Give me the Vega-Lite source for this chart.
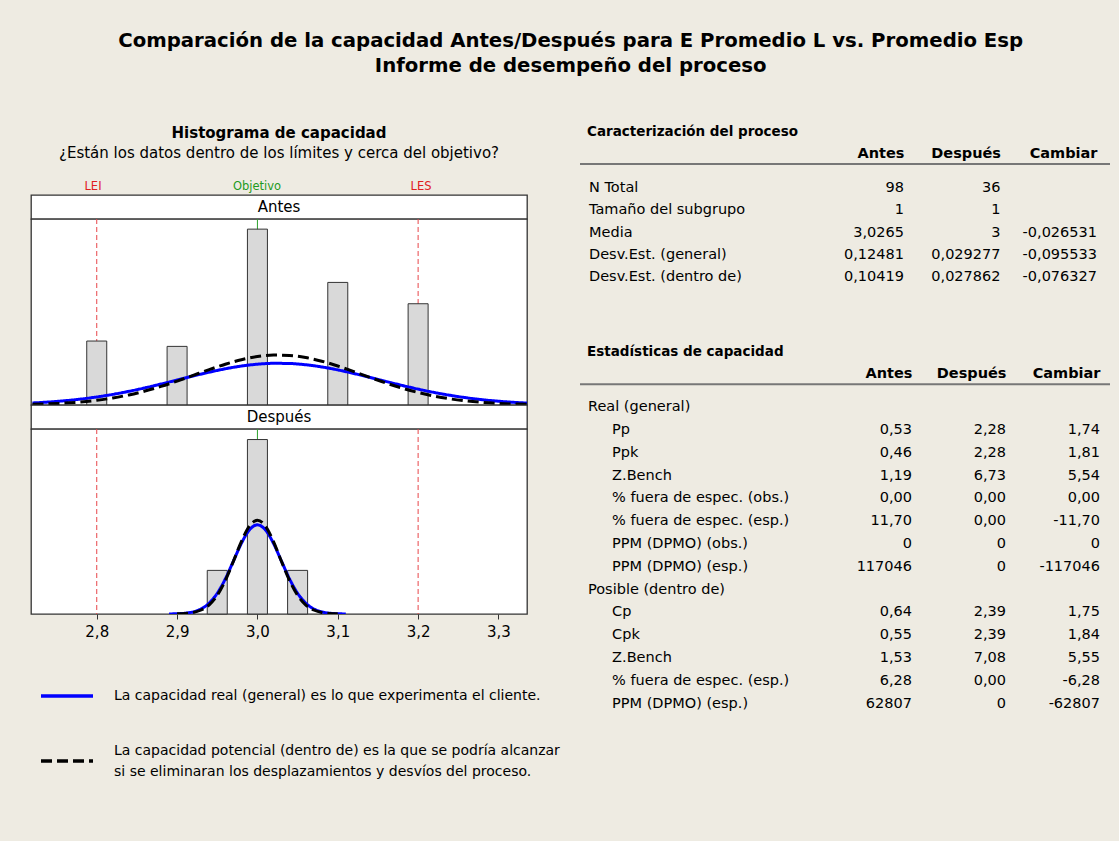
{
  "$schema": "https://vega.github.io/schema/vega-lite/v6.json",
  "background": "#EEEBE2",
  "padding": {"left": 30, "top": 30, "right": 10, "bottom": 70},
  "config": {
    "font": "DejaVu Sans",
    "view": {"stroke": null},
    "text": {"fontSize": 14.5, "color": "#000000"},
    "title": {"color": "#000000", "subtitleColor": "#000000"},
    "axis": {"labelColor": "#000000"},
    "legend": {
      "title": null, "orient": "none", "legendX": 8, "legendY": 504,
      "direction": "vertical", "symbolType": "stroke", "symbolSize": 2704,
      "symbolStrokeWidth": 3.5, "labelFontSize": 14, "labelLimit": 1000,
      "labelOffset": 19, "rowPadding": 30, "labelColor": "#000000"
    }
  },
  "datasets": {
    "especificaciones": [
      {"tipo": "LEI", "valor": 2.8},
      {"tipo": "Objetivo", "valor": 3.0},
      {"tipo": "LES", "valor": 3.2}
    ],
    "histograma": [
      {"periodo": "Antes", "centro": 2.8, "frecuencia": 12},
      {"periodo": "Antes", "centro": 2.9, "frecuencia": 11},
      {"periodo": "Antes", "centro": 3.0, "frecuencia": 33},
      {"periodo": "Antes", "centro": 3.1, "frecuencia": 23},
      {"periodo": "Antes", "centro": 3.2, "frecuencia": 19},
      {"periodo": "Después", "centro": 2.95, "frecuencia": 6},
      {"periodo": "Después", "centro": 3.0, "frecuencia": 24},
      {"periodo": "Después", "centro": 3.05, "frecuencia": 6}
    ],
    "curvas": [
      {"periodo": "Antes", "curva": "general", "medicion": 2.72, "densidad": 0.384},
      {"periodo": "Antes", "curva": "general", "medicion": 2.74, "densidad": 0.562},
      {"periodo": "Antes", "curva": "general", "medicion": 2.76, "densidad": 0.801},
      {"periodo": "Antes", "curva": "general", "medicion": 2.78, "densidad": 1.114},
      {"periodo": "Antes", "curva": "general", "medicion": 2.80, "densidad": 1.509},
      {"periodo": "Antes", "curva": "general", "medicion": 2.82, "densidad": 1.993},
      {"periodo": "Antes", "curva": "general", "medicion": 2.84, "densidad": 2.565},
      {"periodo": "Antes", "curva": "general", "medicion": 2.86, "densidad": 3.217},
      {"periodo": "Antes", "curva": "general", "medicion": 2.88, "densidad": 3.932},
      {"periodo": "Antes", "curva": "general", "medicion": 2.90, "densidad": 4.686},
      {"periodo": "Antes", "curva": "general", "medicion": 2.92, "densidad": 5.442},
      {"periodo": "Antes", "curva": "general", "medicion": 2.94, "densidad": 6.159},
      {"periodo": "Antes", "curva": "general", "medicion": 2.96, "densidad": 6.795},
      {"periodo": "Antes", "curva": "general", "medicion": 2.98, "densidad": 7.306},
      {"periodo": "Antes", "curva": "general", "medicion": 3.00, "densidad": 7.657},
      {"periodo": "Antes", "curva": "general", "medicion": 3.02, "densidad": 7.821},
      {"periodo": "Antes", "curva": "general", "medicion": 3.04, "densidad": 7.786},
      {"periodo": "Antes", "curva": "general", "medicion": 3.06, "densidad": 7.554},
      {"periodo": "Antes", "curva": "general", "medicion": 3.08, "densidad": 7.144},
      {"periodo": "Antes", "curva": "general", "medicion": 3.10, "densidad": 6.585},
      {"periodo": "Antes", "curva": "general", "medicion": 3.12, "densidad": 5.915},
      {"periodo": "Antes", "curva": "general", "medicion": 3.14, "densidad": 5.179},
      {"periodo": "Antes", "curva": "general", "medicion": 3.16, "densidad": 4.420},
      {"periodo": "Antes", "curva": "general", "medicion": 3.18, "densidad": 3.676},
      {"periodo": "Antes", "curva": "general", "medicion": 3.20, "densidad": 2.980},
      {"periodo": "Antes", "curva": "general", "medicion": 3.22, "densidad": 2.355},
      {"periodo": "Antes", "curva": "general", "medicion": 3.24, "densidad": 1.813},
      {"periodo": "Antes", "curva": "general", "medicion": 3.26, "densidad": 1.361},
      {"periodo": "Antes", "curva": "general", "medicion": 3.28, "densidad": 0.995},
      {"periodo": "Antes", "curva": "general", "medicion": 3.30, "densidad": 0.710},
      {"periodo": "Antes", "curva": "general", "medicion": 3.32, "densidad": 0.493},
      {"periodo": "Antes", "curva": "general", "medicion": 3.34, "densidad": 0.334},
      {"periodo": "Antes", "curva": "dentro de", "medicion": 2.72, "densidad": 0.124},
      {"periodo": "Antes", "curva": "dentro de", "medicion": 2.74, "densidad": 0.214},
      {"periodo": "Antes", "curva": "dentro de", "medicion": 2.76, "densidad": 0.356},
      {"periodo": "Antes", "curva": "dentro de", "medicion": 2.78, "densidad": 0.571},
      {"periodo": "Antes", "curva": "dentro de", "medicion": 2.80, "densidad": 0.883},
      {"periodo": "Antes", "curva": "dentro de", "medicion": 2.82, "densidad": 1.316},
      {"periodo": "Antes", "curva": "dentro de", "medicion": 2.84, "densidad": 1.890},
      {"periodo": "Antes", "curva": "dentro de", "medicion": 2.86, "densidad": 2.617},
      {"periodo": "Antes", "curva": "dentro de", "medicion": 2.88, "densidad": 3.491},
      {"periodo": "Antes", "curva": "dentro de", "medicion": 2.90, "densidad": 4.489},
      {"periodo": "Antes", "curva": "dentro de", "medicion": 2.92, "densidad": 5.564},
      {"periodo": "Antes", "curva": "dentro de", "medicion": 2.94, "densidad": 6.646},
      {"periodo": "Antes", "curva": "dentro de", "medicion": 2.96, "densidad": 7.652},
      {"periodo": "Antes", "curva": "dentro de", "medicion": 2.98, "densidad": 8.492},
      {"periodo": "Antes", "curva": "dentro de", "medicion": 3.00, "densidad": 9.082},
      {"periodo": "Antes", "curva": "dentro de", "medicion": 3.02, "densidad": 9.363},
      {"periodo": "Antes", "curva": "dentro de", "medicion": 3.04, "densidad": 9.303},
      {"periodo": "Antes", "curva": "dentro de", "medicion": 3.06, "densidad": 8.908},
      {"periodo": "Antes", "curva": "dentro de", "medicion": 3.08, "densidad": 8.222},
      {"periodo": "Antes", "curva": "dentro de", "medicion": 3.10, "densidad": 7.315},
      {"periodo": "Antes", "curva": "dentro de", "medicion": 3.12, "densidad": 6.272},
      {"periodo": "Antes", "curva": "dentro de", "medicion": 3.14, "densidad": 5.183},
      {"periodo": "Antes", "curva": "dentro de", "medicion": 3.16, "densidad": 4.128},
      {"periodo": "Antes", "curva": "dentro de", "medicion": 3.18, "densidad": 3.169},
      {"periodo": "Antes", "curva": "dentro de", "medicion": 3.20, "densidad": 2.345},
      {"periodo": "Antes", "curva": "dentro de", "medicion": 3.22, "densidad": 1.673},
      {"periodo": "Antes", "curva": "dentro de", "medicion": 3.24, "densidad": 1.149},
      {"periodo": "Antes", "curva": "dentro de", "medicion": 3.26, "densidad": 0.761},
      {"periodo": "Antes", "curva": "dentro de", "medicion": 3.28, "densidad": 0.486},
      {"periodo": "Antes", "curva": "dentro de", "medicion": 3.30, "densidad": 0.299},
      {"periodo": "Antes", "curva": "dentro de", "medicion": 3.32, "densidad": 0.178},
      {"periodo": "Antes", "curva": "dentro de", "medicion": 3.34, "densidad": 0.102},
      {"periodo": "Después", "curva": "general", "medicion": 2.89, "densidad": 0.011},
      {"periodo": "Después", "curva": "general", "medicion": 2.90, "densidad": 0.036},
      {"periodo": "Después", "curva": "general", "medicion": 2.91, "densidad": 0.109},
      {"periodo": "Después", "curva": "general", "medicion": 2.92, "densidad": 0.293},
      {"periodo": "Después", "curva": "general", "medicion": 2.93, "densidad": 0.704},
      {"periodo": "Después", "curva": "general", "medicion": 2.94, "densidad": 1.502},
      {"periodo": "Después", "curva": "general", "medicion": 2.95, "densidad": 2.853},
      {"periodo": "Después", "curva": "general", "medicion": 2.96, "densidad": 4.822},
      {"periodo": "Después", "curva": "general", "medicion": 2.97, "densidad": 7.255},
      {"periodo": "Después", "curva": "general", "medicion": 2.98, "densidad": 9.712},
      {"periodo": "Después", "curva": "general", "medicion": 2.99, "densidad": 11.569},
      {"periodo": "Después", "curva": "general", "medicion": 3.00, "densidad": 12.264},
      {"periodo": "Después", "curva": "general", "medicion": 3.01, "densidad": 11.569},
      {"periodo": "Después", "curva": "general", "medicion": 3.02, "densidad": 9.712},
      {"periodo": "Después", "curva": "general", "medicion": 3.03, "densidad": 7.255},
      {"periodo": "Después", "curva": "general", "medicion": 3.04, "densidad": 4.822},
      {"periodo": "Después", "curva": "general", "medicion": 3.05, "densidad": 2.853},
      {"periodo": "Después", "curva": "general", "medicion": 3.06, "densidad": 1.502},
      {"periodo": "Después", "curva": "general", "medicion": 3.07, "densidad": 0.704},
      {"periodo": "Después", "curva": "general", "medicion": 3.08, "densidad": 0.293},
      {"periodo": "Después", "curva": "general", "medicion": 3.09, "densidad": 0.109},
      {"periodo": "Después", "curva": "general", "medicion": 3.10, "densidad": 0.036},
      {"periodo": "Después", "curva": "general", "medicion": 3.11, "densidad": 0.011},
      {"periodo": "Después", "curva": "dentro de", "medicion": 2.90, "densidad": 0.021},
      {"periodo": "Después", "curva": "dentro de", "medicion": 2.91, "densidad": 0.070},
      {"periodo": "Después", "curva": "dentro de", "medicion": 2.92, "densidad": 0.209},
      {"periodo": "Después", "curva": "dentro de", "medicion": 2.93, "densidad": 0.549},
      {"periodo": "Después", "curva": "dentro de", "medicion": 2.94, "densidad": 1.268},
      {"periodo": "Después", "curva": "dentro de", "medicion": 2.95, "densidad": 2.575},
      {"periodo": "Después", "curva": "dentro de", "medicion": 2.96, "densidad": 4.598},
      {"periodo": "Después", "curva": "dentro de", "medicion": 2.97, "densidad": 7.217},
      {"periodo": "Después", "curva": "dentro de", "medicion": 2.98, "densidad": 9.960},
      {"periodo": "Después", "curva": "dentro de", "medicion": 2.99, "densidad": 12.083},
      {"periodo": "Después", "curva": "dentro de", "medicion": 3.00, "densidad": 12.887},
      {"periodo": "Después", "curva": "dentro de", "medicion": 3.01, "densidad": 12.083},
      {"periodo": "Después", "curva": "dentro de", "medicion": 3.02, "densidad": 9.960},
      {"periodo": "Después", "curva": "dentro de", "medicion": 3.03, "densidad": 7.217},
      {"periodo": "Después", "curva": "dentro de", "medicion": 3.04, "densidad": 4.598},
      {"periodo": "Después", "curva": "dentro de", "medicion": 3.05, "densidad": 2.575},
      {"periodo": "Después", "curva": "dentro de", "medicion": 3.06, "densidad": 1.268},
      {"periodo": "Después", "curva": "dentro de", "medicion": 3.07, "densidad": 0.549},
      {"periodo": "Después", "curva": "dentro de", "medicion": 3.08, "densidad": 0.209},
      {"periodo": "Después", "curva": "dentro de", "medicion": 3.09, "densidad": 0.070},
      {"periodo": "Después", "curva": "dentro de", "medicion": 3.10, "densidad": 0.021}
    ],
    "caracterizacion": [
      {"fila": 1, "nivel": 0, "etiqueta": "N Total", "Antes": "98", "Después": "36", "Cambiar": ""},
      {"fila": 2, "nivel": 0, "etiqueta": "Tamaño del subgrupo", "Antes": "1", "Después": "1", "Cambiar": ""},
      {"fila": 3, "nivel": 0, "etiqueta": "Media", "Antes": "3,0265", "Después": "3", "Cambiar": "-0,026531"},
      {"fila": 4, "nivel": 0, "etiqueta": "Desv.Est. (general)", "Antes": "0,12481", "Después": "0,029277", "Cambiar": "-0,095533"},
      {"fila": 5, "nivel": 0, "etiqueta": "Desv.Est. (dentro de)", "Antes": "0,10419", "Después": "0,027862", "Cambiar": "-0,076327"}
    ],
    "estadisticas": [
      {"fila": 1, "nivel": 0, "etiqueta": "Real (general)", "Antes": "", "Después": "", "Cambiar": ""},
      {"fila": 2, "nivel": 1, "etiqueta": "Pp", "Antes": "0,53", "Después": "2,28", "Cambiar": "1,74"},
      {"fila": 3, "nivel": 1, "etiqueta": "Ppk", "Antes": "0,46", "Después": "2,28", "Cambiar": "1,81"},
      {"fila": 4, "nivel": 1, "etiqueta": "Z.Bench", "Antes": "1,19", "Después": "6,73", "Cambiar": "5,54"},
      {"fila": 5, "nivel": 1, "etiqueta": "% fuera de espec. (obs.)", "Antes": "0,00", "Después": "0,00", "Cambiar": "0,00"},
      {"fila": 6, "nivel": 1, "etiqueta": "% fuera de espec. (esp.)", "Antes": "11,70", "Después": "0,00", "Cambiar": "-11,70"},
      {"fila": 7, "nivel": 1, "etiqueta": "PPM (DPMO) (obs.)", "Antes": "0", "Después": "0", "Cambiar": "0"},
      {"fila": 8, "nivel": 1, "etiqueta": "PPM (DPMO) (esp.)", "Antes": "117046", "Después": "0", "Cambiar": "-117046"},
      {"fila": 9, "nivel": 0, "etiqueta": "Posible (dentro de)", "Antes": "", "Después": "", "Cambiar": ""},
      {"fila": 10, "nivel": 1, "etiqueta": "Cp", "Antes": "0,64", "Después": "2,39", "Cambiar": "1,75"},
      {"fila": 11, "nivel": 1, "etiqueta": "Cpk", "Antes": "0,55", "Después": "2,39", "Cambiar": "1,84"},
      {"fila": 12, "nivel": 1, "etiqueta": "Z.Bench", "Antes": "1,53", "Después": "7,08", "Cambiar": "5,55"},
      {"fila": 13, "nivel": 1, "etiqueta": "% fuera de espec. (esp.)", "Antes": "6,28", "Después": "0,00", "Cambiar": "-6,28"},
      {"fila": 14, "nivel": 1, "etiqueta": "PPM (DPMO) (esp.)", "Antes": "62807", "Después": "0", "Cambiar": "-62807"}
    ]
  },
  "title": {
    "text": ["Comparación de la capacidad Antes/Después para E Promedio L vs. Promedio Esp", "Informe de desempeño del proceso"],
    "fontSize": 19.7,
    "fontWeight": "bold",
    "lineHeight": 25,
    "anchor": "middle",
    "offset": 49
  },
  "spacing": 51,
  "hconcat": [
    {
      "title": {
        "text": "Histograma de capacidad",
        "subtitle": "¿Están los datos dentro de los límites y cerca del objetivo?",
        "fontSize": 15,
        "fontWeight": "bold",
        "subtitleFontSize": 15,
        "subtitlePadding": 5,
        "anchor": "middle",
        "offset": 3
      },
      "bounds": "flush",
      "spacing": 0,
      "vconcat": [
        {
          "width": 496,
          "height": 31,
          "data": {"name": "especificaciones"},
          "layer": [
            {
              "transform": [{"filter": "datum.tipo != 'Objetivo'"}],
              "mark": {"type": "text", "color": "#E0201E", "fontSize": 11.5, "dy": 7.5},
              "encoding": {
                "x": {"field": "valor", "type": "quantitative", "scale": {"domain": [2.7244, 3.3293], "nice": false, "zero": false}, "axis": null},
                "text": {"field": "tipo"}
              }
            },
            {
              "transform": [{"filter": "datum.tipo == 'Objetivo'"}],
              "mark": {"type": "text", "color": "#1E9A1E", "fontSize": 11.5, "dy": 7.5},
              "encoding": {
                "x": {"field": "valor", "type": "quantitative", "scale": {"domain": [2.7244, 3.3293], "nice": false, "zero": false}, "axis": null},
                "text": {"field": "tipo"}
              }
            }
          ]
        },
        {
          "width": 496,
          "height": 24,
          "view": {"fill": "#FFFFFF", "stroke": "#333333", "strokeWidth": 1.3},
          "data": {"values": [{"periodo": "Antes"}]},
          "mark": {"type": "text", "fontSize": 15},
          "encoding": {"text": {"field": "periodo"}}
        },
        {
          "width": 496,
          "height": 186,
          "view": {"fill": "#FFFFFF", "stroke": "#333333", "strokeWidth": 1.3},
          "layer": [
            {
              "data": {"name": "especificaciones"},
              "transform": [{"filter": "datum.tipo != 'Objetivo'"}],
              "mark": {"type": "rule", "color": "#E8464A", "strokeWidth": 1, "strokeDash": [5, 3]},
              "encoding": {
                "x": {"field": "valor", "type": "quantitative", "scale": {"domain": [2.7244, 3.3293], "nice": false, "zero": false}, "axis": null}
              }
            },
            {
              "data": {"name": "especificaciones"},
              "transform": [{"filter": "datum.tipo == 'Objetivo'"}],
              "mark": {"type": "rule", "color": "#2CA02C", "strokeWidth": 1},
              "encoding": {
                "x": {"field": "valor", "type": "quantitative", "axis": null}
              }
            },
            {
              "data": {"name": "histograma"},
              "transform": [{"filter": "datum.periodo == 'Antes'"}],
              "mark": {"type": "bar", "orient": "vertical", "size": 20, "fill": "#D9D9D9", "stroke": "#333333", "strokeWidth": 1},
              "encoding": {
                "x": {"field": "centro", "type": "quantitative", "axis": null},
                "y": {"field": "frecuencia", "type": "quantitative", "scale": {"domain": [0, 34.9], "nice": false}, "axis": null}
              }
            },
            {
              "data": {"name": "curvas"},
              "transform": [{"filter": "datum.periodo == 'Antes'"}],
              "mark": {"type": "line", "strokeWidth": 3, "interpolate": "monotone", "clip": true},
              "encoding": {
                "x": {"field": "medicion", "type": "quantitative", "axis": null},
                "y": {"field": "densidad", "type": "quantitative", "axis": null},
                "color": {
                  "field": "curva", "type": "nominal",
                  "scale": {"domain": ["general", "dentro de"], "range": ["#0000FF", "#000000"]},
                  "legend": {
                    "labelExpr": "datum.label == 'general' ? 'La capacidad real (general) es lo que experimenta el cliente.' : ['La capacidad potencial (dentro de) es la que se podría alcanzar', 'si se eliminaran los desplazamientos y desvíos del proceso.']",
                    "encoding": {"labels": {"lineHeight": {"value": 21}, "dy": {"value": {"expr": "datum.value == 'dentro de' ? -10.5 : 0"}}}}
                  }
                },
                "strokeDash": {
                  "field": "curva", "type": "nominal",
                  "scale": {"domain": ["general", "dentro de"], "range": [[1, 0], [11, 5]]},
                  "legend": {
                    "labelExpr": "datum.label == 'general' ? 'La capacidad real (general) es lo que experimenta el cliente.' : ['La capacidad potencial (dentro de) es la que se podría alcanzar', 'si se eliminaran los desplazamientos y desvíos del proceso.']",
                    "encoding": {"labels": {"lineHeight": {"value": 21}, "dy": {"value": {"expr": "datum.value == 'dentro de' ? -10.5 : 0"}}}}
                  }
                }
              }
            }
          ]
        },
        {
          "width": 496,
          "height": 24,
          "view": {"fill": "#FFFFFF", "stroke": "#333333", "strokeWidth": 1.3},
          "data": {"values": [{"periodo": "Después"}]},
          "mark": {"type": "text", "fontSize": 15},
          "encoding": {"text": {"field": "periodo"}}
        },
        {
          "width": 496,
          "height": 185,
          "view": {"fill": "#FFFFFF", "stroke": "#333333", "strokeWidth": 1.3},
          "layer": [
            {
              "data": {"name": "especificaciones"},
              "transform": [{"filter": "datum.tipo != 'Objetivo'"}],
              "mark": {"type": "rule", "color": "#E8464A", "strokeWidth": 1, "strokeDash": [5, 3]},
              "encoding": {
                "x": {
                  "field": "valor", "type": "quantitative",
                  "scale": {"domain": [2.7244, 3.3293], "nice": false, "zero": false},
                  "axis": {
                    "values": [2.8, 2.9, 3.0, 3.1, 3.2, 3.3],
                    "labelExpr": "replace(format(datum.value, '.1f'), '.', ',')",
                    "title": null, "grid": false, "domain": false,
                    "tickColor": "#333333", "tickSize": 5,
                    "labelFontSize": 15, "labelPadding": 5
                  }
                }
              }
            },
            {
              "data": {"name": "especificaciones"},
              "transform": [{"filter": "datum.tipo == 'Objetivo'"}],
              "mark": {"type": "rule", "color": "#2CA02C", "strokeWidth": 1},
              "encoding": {
                "x": {"field": "valor", "type": "quantitative"}
              }
            },
            {
              "data": {"name": "histograma"},
              "transform": [{"filter": "datum.periodo == 'Después'"}],
              "mark": {"type": "bar", "orient": "vertical", "size": 20, "fill": "#D9D9D9", "stroke": "#333333", "strokeWidth": 1},
              "encoding": {
                "x": {"field": "centro", "type": "quantitative"},
                "y": {"field": "frecuencia", "type": "quantitative", "scale": {"domain": [0, 25.45], "nice": false}, "axis": null}
              }
            },
            {
              "data": {"name": "curvas"},
              "transform": [{"filter": "datum.periodo == 'Después'"}],
              "mark": {"type": "line", "strokeWidth": 3, "interpolate": "monotone", "clip": true},
              "encoding": {
                "x": {"field": "medicion", "type": "quantitative"},
                "y": {"field": "densidad", "type": "quantitative", "axis": null},
                "color": {
                  "field": "curva", "type": "nominal",
                  "scale": {"domain": ["general", "dentro de"], "range": ["#0000FF", "#000000"]},
                  "legend": {
                    "labelExpr": "datum.label == 'general' ? 'La capacidad real (general) es lo que experimenta el cliente.' : ['La capacidad potencial (dentro de) es la que se podría alcanzar', 'si se eliminaran los desplazamientos y desvíos del proceso.']",
                    "encoding": {"labels": {"lineHeight": {"value": 21}, "dy": {"value": {"expr": "datum.value == 'dentro de' ? -10.5 : 0"}}}}
                  }
                },
                "strokeDash": {
                  "field": "curva", "type": "nominal",
                  "scale": {"domain": ["general", "dentro de"], "range": [[1, 0], [11, 5]]},
                  "legend": {
                    "labelExpr": "datum.label == 'general' ? 'La capacidad real (general) es lo que experimenta el cliente.' : ['La capacidad potencial (dentro de) es la que se podría alcanzar', 'si se eliminaran los desplazamientos y desvíos del proceso.']",
                    "encoding": {"labels": {"lineHeight": {"value": 21}, "dy": {"value": {"expr": "datum.value == 'dentro de' ? -10.5 : 0"}}}}
                  }
                }
              }
            }
          ]
        }
      ]
    },
    {
      "bounds": "flush",
      "spacing": 97.3,
      "vconcat": [
        {
          "title": {"text": "Caracterización del proceso", "anchor": "start", "fontSize": 13.5, "fontWeight": "bold", "dx": 8, "offset": 7},
          "width": 530,
          "height": 123,
          "data": {"name": "caracterizacion"},
          "resolve": {"scale": {"x": "independent"}, "axis": {"x": "independent"}},
          "layer": [
            {
              "data": {"values": [{"linea": "encabezado"}]},
              "mark": {"type": "rule", "color": "#777777", "strokeWidth": 2},
              "encoding": {"y": {"datum": 0, "type": "quantitative", "scale": {"domain": [0, 5.5], "reverse": true, "nice": false, "zero": false}, "axis": null}}
            },
            {
              "mark": {"type": "text", "align": "left", "baseline": "middle", "dx": 9, "dy": 1.5},
              "encoding": {
                "x": {"field": "nivel", "type": "quantitative", "scale": {"domain": [0, 22]}, "axis": null},
                "y": {"field": "fila", "type": "quantitative", "axis": null},
                "text": {"field": "etiqueta"}
              }
            },
            {
              "transform": [{"fold": ["Antes", "Después", "Cambiar"], "as": ["columna", "valor"]}],
              "mark": {"type": "text", "align": "right", "baseline": "middle", "dy": 1.5},
              "encoding": {
                "x": {
                  "field": "columna", "type": "nominal",
                  "scale": {"domain": ["Antes", "Después", "Cambiar"], "range": [324, 517], "padding": 0},
                  "axis": {"orient": "top", "title": null, "ticks": false, "domain": false, "labelAlign": "right", "labelAngle": 0, "labelFontWeight": "bold", "labelFontSize": 14.5, "labelPadding": 4}
                },
                "y": {"field": "fila", "type": "quantitative", "axis": null},
                "text": {"field": "valor"}
              }
            }
          ]
        },
        {
          "title": {"text": "Estadísticas de capacidad", "anchor": "start", "fontSize": 13.5, "fontWeight": "bold", "dx": 8, "offset": 7},
          "width": 530,
          "height": 330.6,
          "data": {"name": "estadisticas"},
          "resolve": {"scale": {"x": "independent"}, "axis": {"x": "independent"}},
          "layer": [
            {
              "data": {"values": [{"linea": "encabezado"}]},
              "mark": {"type": "rule", "color": "#777777", "strokeWidth": 2},
              "encoding": {"y": {"datum": 0, "type": "quantitative", "scale": {"domain": [0, 14.5], "reverse": true, "nice": false, "zero": false}, "axis": null}}
            },
            {
              "mark": {"type": "text", "align": "left", "baseline": "middle", "dx": 8},
              "encoding": {
                "x": {"field": "nivel", "type": "quantitative", "scale": {"domain": [0, 22]}, "axis": null},
                "y": {"field": "fila", "type": "quantitative", "axis": null},
                "text": {"field": "etiqueta"}
              }
            },
            {
              "transform": [{"fold": ["Antes", "Después", "Cambiar"], "as": ["columna", "valor"]}],
              "mark": {"type": "text", "align": "right", "baseline": "middle"},
              "encoding": {
                "x": {
                  "field": "columna", "type": "nominal",
                  "scale": {"domain": ["Antes", "Después", "Cambiar"], "range": [332, 520], "padding": 0},
                  "axis": {"orient": "top", "title": null, "ticks": false, "domain": false, "labelAlign": "right", "labelAngle": 0, "labelFontWeight": "bold", "labelFontSize": 14.5, "labelPadding": 4}
                },
                "y": {"field": "fila", "type": "quantitative", "axis": null},
                "text": {"field": "valor"}
              }
            }
          ]
        }
      ]
    }
  ]
}
